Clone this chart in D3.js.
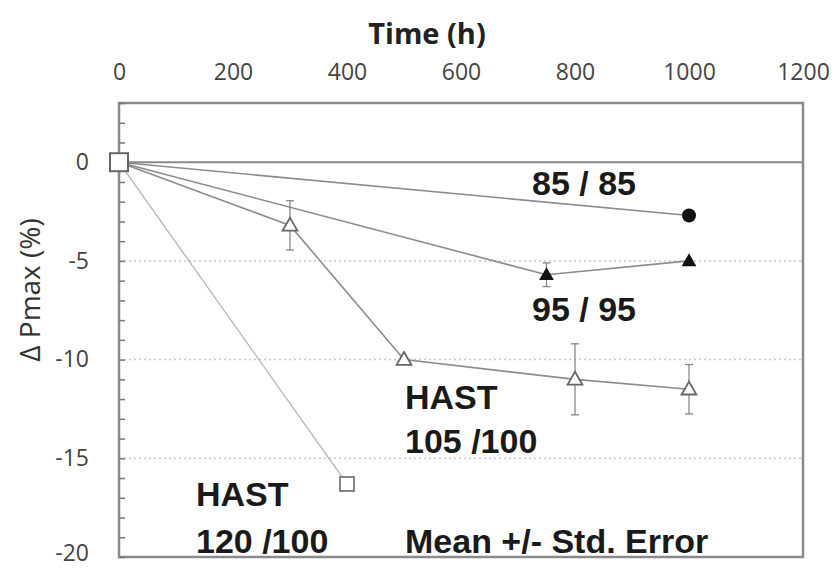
<!DOCTYPE html>
<html>
<head>
<meta charset="utf-8">
<script src="https://cdn.jsdelivr.net/npm/d3@7"></script>
<style>
  body { margin: 0; background: #fff; }
  .tick-label { font-family: "Liberation Sans Narrow", "Open Sans", sans-serif; fill: #444; }
  .note { font-family: "Liberation Sans", Arial, sans-serif; font-weight: bold; fill: #1a1a1a; }
</style>
</head>
<body>
<div id="chart"></div>
<script>
'use strict';

// data
const xTicks = [0, 200, 400, 600, 800, 1000, 1200];
const yTicks = [0, -5, -10, -15, -20];
const gridValues = [-5, -10, -15];

const time85 = [0, 1000];
const val85 = [0, -2.7];

const time95 = [0, 750, 1000];
const val95 = [0, -5.7, -5.0];
const err95 = [0, 0.6, 0];

const time105 = [0, 300, 500, 800, 1000];
const val105 = [0, -3.2, -10.0, -11.0, -11.5];
const err105 = [0, 1.25, 0, 1.8, 1.25];

const time120 = [0, 400];
const val120 = [0, -16.3];

const svgWidth = 835, svgHeight = 570;
const plot = {left: 119, right: 803, top: 103, bottom: 557};

const svg = d3.select('#chart').append('svg')
  .attr('width', svgWidth)
  .attr('height', svgHeight);

const x = d3.scaleLinear().domain([0, 1200]).range([plot.left, plot.right]);
const y = d3.scaleLinear().domain([-20, 3]).range([plot.bottom, plot.top]);

// dotted gridlines
svg.append('g').selectAll('line')
  .data(gridValues)
  .enter().append('line')
    .attr('x1', plot.left).attr('x2', plot.right)
    .attr('y1', d => y(d)).attr('y2', d => y(d))
    .attr('stroke', '#c8c8c8')
    .attr('stroke-width', 1.5)
    .attr('stroke-dasharray', '2,3');

// zero line
svg.append('line')
  .attr('x1', plot.left).attr('x2', plot.right)
  .attr('y1', y(0)).attr('y2', y(0))
  .attr('stroke', '#8a8a8a').attr('stroke-width', 2);

// frame
svg.append('rect')
  .attr('x', plot.left).attr('y', plot.top)
  .attr('width', plot.right - plot.left).attr('height', plot.bottom - plot.top)
  .attr('fill', 'none').attr('stroke', '#8a8a8a').attr('stroke-width', 2.5);

// left axis minor ticks (every 1 unit), pointing inward
const leftAxis = d3.axisRight(y).tickValues(d3.range(-20, 4, 1)).tickSize(6).tickFormat('');
const gLeft = svg.append('g').attr('transform', `translate(${plot.left},0)`).call(leftAxis);
gLeft.select('.domain').remove();
gLeft.selectAll('line').attr('stroke', '#777').attr('stroke-width', 1.5);

const plain = d => String(d);

// top tick labels
const topAxis = d3.axisTop(x).tickValues(xTicks).tickSize(0).tickPadding(0).tickFormat(plain);
const gTop = svg.append('g').attr('transform', 'translate(0,80)').call(topAxis);
gTop.select('.domain').remove();
gTop.selectAll('text').attr('class', 'tick-label').attr('font-size', 23).attr('fill', '#444');

// left tick labels
const yAxis = d3.axisLeft(y).tickValues(yTicks).tickSize(0).tickPadding(0).tickFormat(plain);
const gY = svg.append('g').attr('transform', 'translate(89,0)').call(yAxis);
gY.select('.domain').remove();
gY.selectAll('text').attr('class', 'tick-label').attr('font-size', 23).attr('fill', '#444');
// keep the bottom label inside the page
gY.selectAll('text').filter(d => d === -20).attr('y', -4);

// axis titles
svg.append('text')
  .attr('x', 427).attr('y', 44)
  .attr('text-anchor', 'middle')
  .attr('font-family', '"Liberation Sans Narrow", "Open Sans", sans-serif')
  .attr('font-weight', 'bold').attr('font-size', 29).attr('fill', '#222')
  .text('Time (h)');

svg.append('text')
  .attr('transform', 'translate(40,290) rotate(-90)')
  .attr('text-anchor', 'middle')
  .attr('font-family', '"Liberation Sans Narrow", "Open Sans", sans-serif')
  .attr('font-size', 28).attr('fill', '#333')
  .text('\u0394 Pmax (%)');

const zip = (ts, vs, es) => ts.map((t, i) => ({t: t, v: vs[i], e: es ? es[i] : 0}));
const line = d3.line().x(d => x(d.t)).y(d => y(d.v));

const series = [
  {data: zip(time120, val120), stroke: '#b0b0b0', width: 1.2},
  {data: zip(time85, val85), stroke: '#8c8c8c', width: 1.6},
  {data: zip(time95, val95, err95), stroke: '#8c8c8c', width: 1.6},
  {data: zip(time105, val105, err105), stroke: '#8c8c8c', width: 1.6}
];

svg.append('g').selectAll('path')
  .data(series)
  .enter().append('path')
    .attr('d', d => line(d.data))
    .attr('fill', 'none')
    .attr('stroke', d => d.stroke)
    .attr('stroke-width', d => d.width);

// error bars
const errPoints = zip(time95, val95, err95).concat(zip(time105, val105, err105)).filter(d => d.e > 0);
const gErr = svg.append('g').attr('stroke', '#888').attr('stroke-width', 1.3);
gErr.selectAll('.bar').data(errPoints).enter().append('line')
  .attr('x1', d => x(d.t)).attr('x2', d => x(d.t))
  .attr('y1', d => y(d.v + d.e)).attr('y2', d => y(d.v - d.e));
gErr.selectAll('.capTop').data(errPoints).enter().append('line')
  .attr('x1', d => x(d.t) - 4).attr('x2', d => x(d.t) + 4)
  .attr('y1', d => y(d.v + d.e)).attr('y2', d => y(d.v + d.e));
gErr.selectAll('.capBot').data(errPoints).enter().append('line')
  .attr('x1', d => x(d.t) - 4).attr('x2', d => x(d.t) + 4)
  .attr('y1', d => y(d.v - d.e)).attr('y2', d => y(d.v - d.e));

// markers
const tri = d3.symbol().type(d3.symbolTriangle).size(95);

svg.append('g').selectAll('path')
  .data(zip(time105, val105).slice(1))
  .enter().append('path')
    .attr('d', tri)
    .attr('transform', d => `translate(${x(d.t)},${y(d.v) + 1})`)
    .attr('fill', '#fff').attr('stroke', '#666').attr('stroke-width', 1.8);

svg.append('g').selectAll('path')
  .data(zip(time95, val95).slice(1))
  .enter().append('path')
    .attr('d', tri)
    .attr('transform', d => `translate(${x(d.t)},${y(d.v) + 1})`)
    .attr('fill', '#111');

svg.append('g').selectAll('circle')
  .data(zip(time85, val85).slice(1))
  .enter().append('circle')
    .attr('cx', d => x(d.t)).attr('cy', d => y(d.v))
    .attr('r', 7).attr('fill', '#111');

svg.append('g').selectAll('rect')
  .data(zip(time120, val120).slice(1))
  .enter().append('rect')
    .attr('x', d => x(d.t) - 7).attr('y', d => y(d.v) - 7)
    .attr('width', 14).attr('height', 14)
    .attr('fill', '#fff').attr('stroke', '#777').attr('stroke-width', 1.8);

// start point square
svg.append('rect')
  .attr('x', x(0) - 9).attr('y', y(0) - 9)
  .attr('width', 18).attr('height', 18)
  .attr('fill', '#fff').attr('stroke', '#666').attr('stroke-width', 2);

// annotations
const notes = [
  {text: '85 / 85', x: 532, y: 195},
  {text: '95 / 95', x: 532, y: 321},
  {text: 'HAST', x: 405, y: 409},
  {text: '105 /100', x: 405, y: 453},
  {text: 'HAST', x: 196, y: 506},
  {text: '120 /100', x: 196, y: 553},
  {text: 'Mean +/- Std. Error', x: 405, y: 553}
];
svg.append('g').selectAll('text')
  .data(notes)
  .enter().append('text')
    .attr('class', 'note')
    .attr('x', d => d.x).attr('y', d => d.y)
    .attr('font-size', 34)
    .text(d => d.text);
</script>
</body>
</html>
